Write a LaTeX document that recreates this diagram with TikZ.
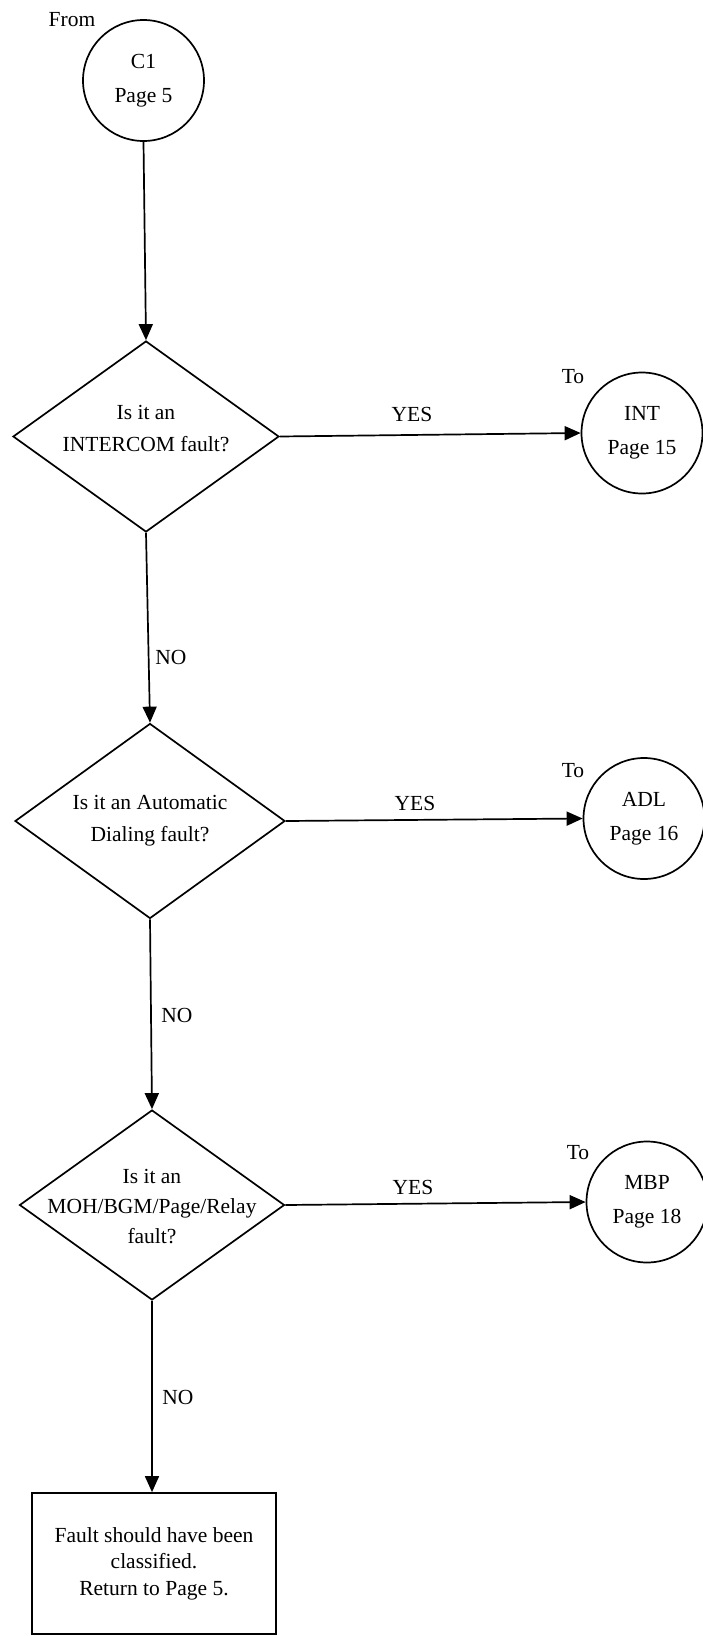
\documentclass[tikz,border=0pt]{standalone}
\usepackage{fontspec}
\setmainfont{Liberation Serif}
\usetikzlibrary{shapes.geometric,arrows.meta}
\begin{document}
\begin{tikzpicture}[x=1pt,y=-1pt,
  every node/.style={font=\fontsize{21.5}{32}\selectfont},
  conn/.style={circle,draw,line width=1.7pt,minimum size=121pt,inner sep=0pt,align=center,
    font=\fontsize{21.5}{34}\selectfont},
  decision/.style={diamond,draw,line width=1.7pt,inner sep=0pt},
  procbox/.style={rectangle,draw,line width=1.7pt,inner sep=0pt,align=center,
    font=\fontsize{21.5}{26.5}\selectfont},
  flow/.style={line width=1.7pt,-{Triangle[length=16pt,width=14pt]}},
  lbl/.style={inner sep=0pt,align=center}]
\useasboundingbox (0,0) rectangle (703,1636);

% start connector
\node[conn] (c1) at (143.5,80.5) {C1\\Page 5};
\node[lbl] (from) at (72,19.5) {From};

% decisions
\node[decision,minimum width=266pt,minimum height=191pt] (d1) at (146,436.5) {};
\node[lbl] (d1t) at (146,429) {Is it an\\INTERCOM fault?};

\node[decision,minimum width=270pt,minimum height=195pt] (d2) at (150,821) {};
\node[lbl] (d2t) at (150,821) {Is it an Automatic\\Dialing fault?};

\node[decision,minimum width=265pt,minimum height=190pt] (d3) at (152,1205) {};
\node[lbl,font=\fontsize{21.5}{30}\selectfont] (d3t) at (152,1207) {Is it an\\MOH/BGM/Page/Relay\\fault?};

% off-page connectors
\node[conn] (int) at (642,433) {INT\\Page 15};
\node[lbl] (to1) at (573,377) {To};
\node[conn] (adl) at (644,818.5) {ADL\\Page 16};
\node[lbl] (to2) at (573,771) {To};
\node[conn] (mbp) at (647,1202) {MBP\\Page 18};
\node[lbl] (to3) at (578,1153) {To};

% final box
\node[procbox,minimum width=244pt,minimum height=141pt] (box) at (154,1563.5)
  {Fault should have been\\classified.\\Return to Page 5.};

% connectors
\draw[flow] (c1.south) -- (d1.north);
\draw[flow] (d1.south) -- (d2.north);
\draw[flow] (d2.south) -- (d3.north);
\draw[flow] (d3.south) -- (d3.south |- box.north);
\draw[flow] (d1.east) -- (int.west);
\draw[flow] (d2.east) -- (adl.west);
\draw[flow] (d3.east) -- (mbp.west);

% labels
\node[lbl] (yes1) at (412,414) {YES};
\node[lbl] (yes2) at (415,803) {YES};
\node[lbl] (yes3) at (413,1187) {YES};
\node[lbl] (no1) at (171,657) {NO};
\node[lbl] (no2) at (177,1015) {NO};
\node[lbl] (no3) at (178,1397) {NO};
\end{tikzpicture}
\end{document}
